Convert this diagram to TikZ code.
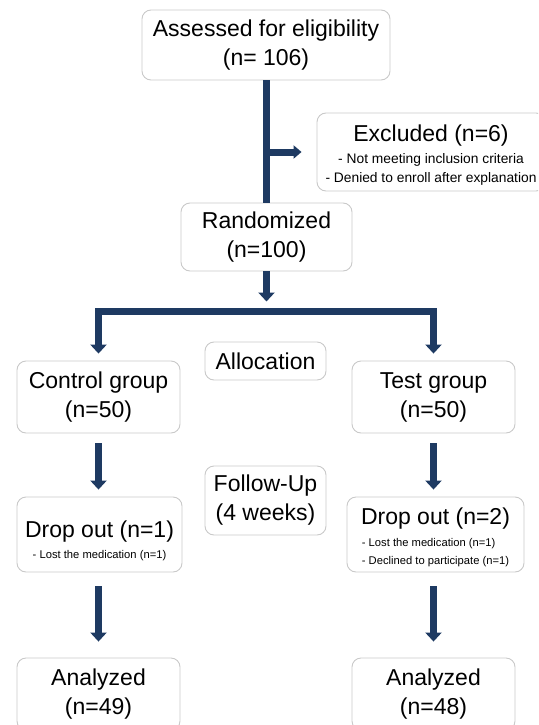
\documentclass[tikz,border=0pt]{standalone}
\usepackage{fontspec}
\setmainfont{Liberation Sans}
\usetikzlibrary{arrows.meta}
\usetikzlibrary{positioning}
\definecolor{flownavy}{HTML}{1E3A62}
\definecolor{boxgray}{HTML}{C9C9C9}
\newcommand\bigtext{\fontsize{23}{29}\selectfont}
\newcommand\smalltext{\fontsize{13.8}{19}\selectfont}
\newcommand\tinytext{\fontsize{11.2}{18}\selectfont}
\tikzset{
  box/.style={draw=boxgray, line width=0.9pt, rounded corners=9pt,
    align=center, inner sep=0pt, font=\bigtext},
  flow/.style={draw=flownavy, line width=7pt, -{Triangle[width=16pt,length=9pt]}},
  flowboth/.style={flow, {Triangle[width=16pt,length=9pt]}-{Triangle[width=16pt,length=9pt]}},
}

\begin{document}
\begin{tikzpicture}[x=1pt,y=-1pt]
  \useasboundingbox (0,0) rectangle (538,725);
  \clip (0,0) rectangle (538,725);

  % enrollment
  \node[box, minimum width=248pt, minimum height=70pt] (assess) at (266,45)
    {Assessed for eligibility\\(n= 106)};
  \node[box, minimum width=228pt, minimum height=78pt] (excl) at (431,152)
    {\rule{0pt}{22pt}Excluded (n=6)\\[-7pt]\smalltext - Not meeting inclusion criteria\\[-10pt]
     \smalltext - Denied to enroll after explanation};
  \node[box, minimum width=171pt, minimum height=68pt] (rand) at (266.5,237)
    {Randomized\\(n=100)};

  % allocation
  \node[box, minimum width=121pt, minimum height=38pt] (alloc) at (265.5,361) {Allocation};
  \node[box, minimum width=163pt, minimum height=72pt] (grpL) at (98.5,397)
    {Control group\\(n=50)};
  \node[box, minimum width=163pt, minimum height=72pt] (grpR) at (433.5,397)
    {Test group\\(n=50)};

  % follow-up
  \node[box, minimum width=121pt, minimum height=69pt] (follow) at (265.5,500.5)
    {Follow-Up\\(4 weeks)};
  \node[box, minimum width=165pt, minimum height=75pt] (dropL) at (99.5,534.5)
    {\rule{0pt}{29pt}Drop out (n=1)\\[-8pt]\tinytext - Lost the medication (n=1)};
  \node[box, minimum width=177pt, minimum height=75pt] (dropR) at (435.5,534.5)
    {\rule{0pt}{25pt}Drop out (n=2)\\[-7pt]{\tinytext\begin{tabular}[t]{@{}l@{}}
      - Lost the medication (n=1)\\
      - Declined to participate (n=1)\end{tabular}}};

  % analysis
  \node[box, minimum width=163pt, minimum height=72pt] (anaL) at (98.5,694)
    {Analyzed\\(n=49)};
  \node[box, minimum width=163pt, minimum height=72pt] (anaR) at (433.5,694)
    {Analyzed\\(n=48)};

  % connectors
  \coordinate (split) at (assess.south |- excl.west);
  \coordinate (bar) at (266,311.5);
  \draw[draw=flownavy, line width=7pt] (assess.south) -- (assess.south |- rand.north);
  \draw[flow, -{Triangle[width=13pt,length=8pt]}, shorten >=15pt] (split) -- (excl.west);
  \draw[flow, shorten >=10pt] (rand.south) -- (rand.south |- bar);
  \draw[flowboth, shorten <=7pt, shorten >=7pt]
    (grpL.north) -- (grpL.north |- bar) -- (grpR.north |- bar) -- (grpR.north);
  \foreach \s in {L,R} {
    \draw[flow, shorten <=10pt, shorten >=7pt]
      (grp\s.south) -- (grp\s.south |- drop\s.north);
    \draw[flow, shorten <=14pt, shorten >=16pt]
      (grp\s.south |- drop\s.south) -- (grp\s.south |- ana\s.north);
  }
\end{tikzpicture}
\end{document}
